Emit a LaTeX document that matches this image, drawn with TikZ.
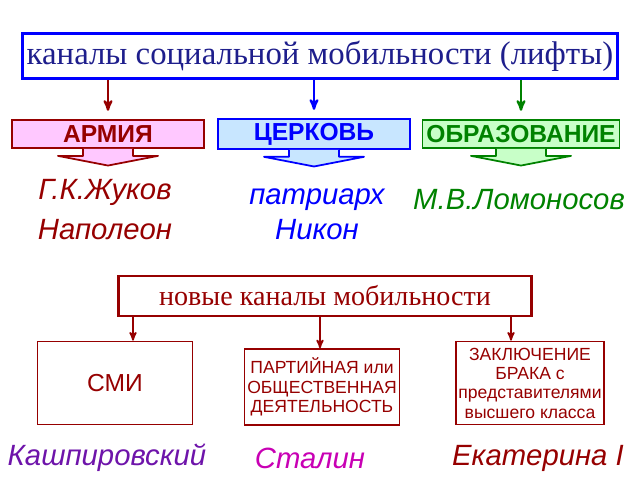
\documentclass[tikz,border=0pt]{standalone}
\usepackage{fontspec}
\setmainfont{Liberation Serif}
\setsansfont{Liberation Sans}
\usetikzlibrary{arrows,positioning}
\definecolor{dred}{RGB}{150,0,0}
\definecolor{dblue}{RGB}{30,30,140}
\definecolor{dgreen}{RGB}{0,130,0}
\definecolor{pinkf}{RGB}{255,200,255}
\definecolor{bluef}{RGB}{200,230,255}
\definecolor{greenf}{RGB}{200,255,200}
\definecolor{purp}{RGB}{110,20,170}
\definecolor{mag}{RGB}{200,0,180}
\begin{document}
\begin{tikzpicture}[
                        x=0.03cm,
                        y=-0.03cm,
                        >=stealth',
                        semithick
                    ]
                    \tikzset{lift/.style={draw=#1,line width=1.5pt,minimum width=5.75cm,minimum height=0.84cm,
                                font=\sffamily\bfseries\fontsize{21}{24}\selectfont,text=#1},
                             person/.style={font=\sffamily\itshape\fontsize{25}{30}\selectfont,align=center},
                             channel/.style={draw=dred,line width=1.2pt,text=dred,
                                font=\sffamily\fontsize{15}{16.5}\selectfont,align=center,inner sep=1pt}}

                    \useasboundingbox (0,0) rectangle (640,480);

                    \node[draw=blue,line width=2.5pt,minimum width=16.95cm,minimum height=1.35cm,
                          font=\fontsize{28}{32}\selectfont,text=dblue] (top) at (320,56) {каналы социальной мобильности (лифты)};

                    \node[lift=dred,fill=pinkf]     (army)   at (108,134) {АРМИЯ};
                    \node[lift=blue,fill=bluef]     (church) at (314,134) {ЦЕРКОВЬ};
                    \node[lift=dgreen,fill=greenf]  (edu)    at (521,134) {ОБРАЗОВАНИЕ};

                    \foreach \n/\c/\f in {army/dred/pinkf,church/blue/bluef,edu/dgreen/greenf}
                      \draw[draw=\c,fill=\f,line width=1.5pt,line join=round]
                        ([xshift=-0.75cm]\n.south) -- ++(0,-0.21cm) -- ++(-0.75cm,0)
                        -- ([yshift=-0.5cm]\n.south) -- ++(1.5cm,0.29cm) -- ++(-0.75cm,0)
                        -- ([xshift=0.75cm]\n.south);

                    \draw[->,dred,line width=2pt]   (top.south -| army) -- ([yshift=0.25cm]army.north);
                    \draw[->,blue,line width=2pt]   (top.south -| church) -- ([yshift=0.25cm]church.north);
                    \draw[->,dgreen,line width=2pt] (top.south -| edu) -- ([yshift=0.25cm]edu.north);

                    \node[person,text=dred]   (zhukov) at (105,192) {Г.К.Жуков};
                    \node[person,text=dred]   (napol)  at (105,230) {Наполеон};
                    \node[person,text=blue]   (nikon)  at (317,214) {патриарх\\Никон};
                    \node[person,text=dgreen] (lomon)  at (519,200) {М.В.Ломоносов};

                    \node[draw=dred,line width=2.5pt,minimum width=12.4cm,minimum height=1.2cm,
                          font=\fontsize{24}{28}\selectfont,text=dred] (new) at (325,296) {новые каналы мобильности};

                    \node[channel,minimum width=4.65cm,minimum height=2.5cm,font=\sffamily\fontsize{21}{24}\selectfont] (smi) at (115,383) {СМИ};
                    \node[channel,minimum width=4.65cm,minimum height=2.28cm] (party) at (322,387)
                        {ПАРТИЙНАЯ или\\ОБЩЕСТВЕННАЯ\\ДЕЯТЕЛЬНОСТЬ};
                    \node[channel,minimum width=4.45cm,minimum height=2.5cm] (marr) at (530,383)
                        {ЗАКЛЮЧЕНИЕ\\БРАКА с\\представителями\\высшего класса};

                    \foreach \n/\x in {smi/133,party/320,marr/511}{
                      \coordinate (a\n) at (\x,0);
                      \draw[->,dred,line width=1.5pt] (new.south -| a\n) -- (\n.north -| a\n);
                    }

                    \node[person,text=purp] (kash)   at (107,458) {Кашпировский};
                    \node[person,text=mag]  (stalin) at (310,458) {Сталин};
                    \node[person,text=dred] (ekat)   at (538,458) {Екатерина I};
\end{tikzpicture}
\end{document}
